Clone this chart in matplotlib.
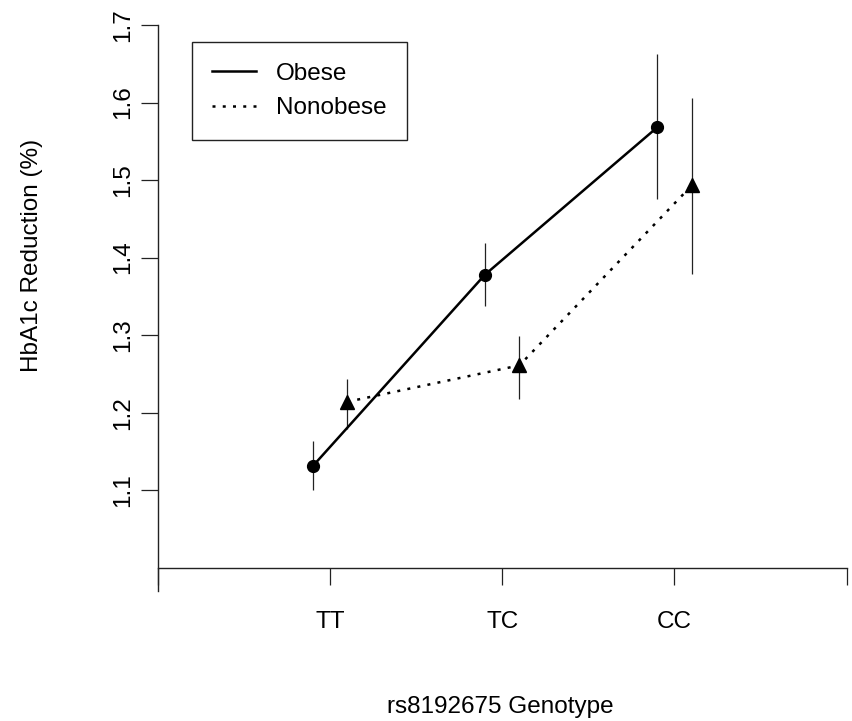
import numpy as np
import matplotlib.pyplot as plt

plt.rcParams['font.family'] = ['Liberation Sans', 'DejaVu Sans']

# genotype groups and mean HbA1c reduction with error bar limits
genotypes = ['TT', 'TC', 'CC']
obese_mean = [1.131, 1.378, 1.568]
obese_lo = [1.100, 1.337, 1.475]
obese_hi = [1.164, 1.419, 1.662]
nonobese_mean = [1.214, 1.261, 1.493]
nonobese_lo = [1.179, 1.217, 1.379]
nonobese_hi = [1.243, 1.299, 1.606]

pos = np.arange(1, len(genotypes) + 1)
shift = 0.1

fig = plt.figure(figsize=(8.53, 7.21), dpi=100)
ax = fig.add_axes([157.7 / 853, 1 - 591 / 721, 689 / 853, 566 / 721])

# error bars
ax.vlines(pos - shift, obese_lo, obese_hi, color='#222222', lw=0.9)
ax.vlines(pos + shift, nonobese_lo, nonobese_hi, color='#222222', lw=0.9)

# means
ax.plot(pos - shift, obese_mean, color='black', lw=1.8, ls='-',
        marker='o', ms=8.5, label='Obese')
ax.plot(pos + shift, nonobese_mean, color='black', lw=1.8,
        ls=(0, (1.2, 2.9)), marker='^', ms=10, label='Nonobese')

ax.set_xlim(0, 4)
ax.set_ylim(0.97, 1.7)

# axes drawn base-graphics style
ax.spines['top'].set_visible(False)
ax.spines['right'].set_visible(False)
ax.spines['bottom'].set_position(('data', 1.0))
ax.spines['bottom'].set_bounds(0, 4)
ax.spines['left'].set_bounds(0.97, 1.7)
for s in ('bottom', 'left'):
    ax.spines[s].set_linewidth(1.0)
    ax.spines[s].set_color('#222222')

ax.set_xticks([0, 1, 2, 3, 4])
ax.set_xticklabels([''] + genotypes + [''])
ax.set_yticks(np.round(np.arange(1.1, 1.71, 0.1), 1))
ax.set_yticklabels(['%.1f' % v for v in np.arange(1.1, 1.71, 0.1)],
                   rotation=90, va='center')
ax.tick_params(axis='both', direction='out', length=12, width=0.9,
               color='#222222', labelsize=17.5)
ax.tick_params(axis='x', pad=19)
ax.tick_params(axis='y', pad=5)

fig.text(32 / 853, 1 - 255 / 721, 'HbA1c Reduction (%)', rotation=90,
         ha='center', va='center', fontsize=17.5)
fig.text(500 / 853, 1 - 707 / 721, 'rs8192675 Genotype',
         ha='center', va='center', fontsize=17.5)

leg = ax.legend(loc='upper left', bbox_to_anchor=(191.7 / 853, 1 - 42.3 / 721),
                bbox_transform=fig.transFigure, borderaxespad=0,
                fontsize=17.5, frameon=True, fancybox=False, framealpha=1,
                edgecolor='#222222', borderpad=0.85, handlelength=1.8,
                handletextpad=0.8, labelspacing=0.5)
leg.get_frame().set_linewidth(1.0)
for h in leg.legend_handles:
    h.set_marker('')

fig.savefig('out.png', dpi=100)
